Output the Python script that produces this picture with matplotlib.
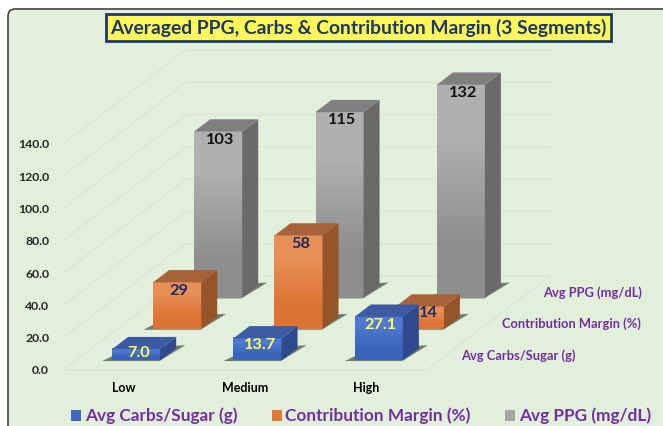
from matplotlib import pyplot as plt
from matplotlib.colors import LinearSegmentedColormap
from matplotlib.patches import FancyBboxPatch, Patch, Polygon

segments = ['Low', 'Medium', 'High']
series_names = ['Avg Carbs/Sugar (g)', 'Contribution Margin (%)', 'Avg PPG (mg/dL)']
carbs = [7.0, 13.7, 27.1]
margin = [29, 58, 14]
ppg = [103, 115, 132]
carbs_labels = ['7.0', '13.7', '27.1']
margin_labels = ['29', '58', '14']
ppg_labels = ['103', '115', '132']
y_ticks = [0, 20, 40, 60, 80, 100, 120, 140]

plt.rcParams['font.family'] = ['Lato', 'DejaVu Sans']
plt.rcParams['font.weight'] = 'bold'

W, H = 663, 426
BG = '#e2efda'
GRID = '#dae7d2'
PURPLE = '#7030a0'
NAVY = '#1f2a60'

# oblique view: one depth step moves 41px right and 31.3px up
DX = 41 / 121.3
DY = 31.33 / 1.614
HALF_W = 0.198
HALF_D = 0.195

# short bars have their labels closer to the top edge (points)
label_shift = {'7.0': (1.5, -3), '13.7': (1.5, -4.5), '14': (6.5, -4.5)}


def proj(cat, depth, val):
    return cat + depth * DX, val + depth * DY


fig = plt.figure(figsize=(W / 100, H / 100), dpi=100, facecolor='white')
frame = FancyBboxPatch((8 / 100, -0.5), 7.5, (H - 9) / 100 + 0.5,
                       boxstyle='round,pad=0,rounding_size=0.07',
                       transform=fig.dpi_scale_trans,
                       facecolor=BG, edgecolor='#333333', linewidth=1.1, zorder=-1)
fig.add_artist(frame)

ax = fig.add_axes([63 / W, (H - 370) / H, 364 / W, 226 / H])
ax.patch.set_alpha(0)
for s in ax.spines.values():
    s.set_visible(False)

# walls and floor
for v in y_ticks:
    x0, y0 = proj(0, 0, v)
    x1, y1 = proj(0, 3, v)
    x2, y2 = proj(3, 3, v)
    ax.plot([x0, x1, x2], [y0, y1, y2], color=GRID, lw=1, clip_on=False, zorder=1)
floor = [proj(0, 0, 0), proj(3, 0, 0), proj(3, 3, 0)]
ax.plot([p[0] for p in floor], [p[1] for p in floor], color=GRID, lw=1, clip_on=False, zorder=1)

styles = [
    (carbs, carbs_labels, 0.5, ('#4f78d0', '#3a64ba'), '#2f4b8e', '#3d5ba3', '#ffff55'),
    (margin, margin_labels, 1.5, ('#e68f58', '#dd7334'), '#96542a', '#a8623a', NAVY),
    (ppg, ppg_labels, 2.5, ('#b0b0b0', '#8e8e8e'), '#6a6a6a', '#7f7f7f', '#111111'),
]

# back row first so that the nearer bars cover it
z = 2
for values, labels, depth, front, side, top, label_col in reversed(styles):
    cmap = LinearSegmentedColormap.from_list('front', front)
    d0, d1 = depth - HALF_D, depth + HALF_D
    for i, val in enumerate(values):
        c0, c1 = i + 0.5 - HALF_W, i + 0.5 + HALF_W
        shadow = [proj(c0 - 0.075, d0 - 0.02, 0), proj(c1, d0 - 0.02, 0),
                  proj(c1 + 0.042, d1 + 0.096, 0), proj(c0, d1, 0)]
        ax.add_patch(Polygon(shadow, closed=True, fc='#4d5546', ec='none', alpha=0.75,
                             clip_on=False, zorder=z))
        fx0, fy0 = proj(c0, d0, 0)
        fx1, fy1 = proj(c1, d0, val)
        ax.imshow([[0], [1]], cmap=cmap, extent=[fx0, fx1, fy0, fy1], aspect='auto',
                  interpolation='bilinear', clip_on=False, zorder=z + 1)
        ax.add_patch(Polygon([proj(c1, d0, 0), proj(c1, d1, 0), proj(c1, d1, val), proj(c1, d0, val)],
                             closed=True, fc=side, ec='none', clip_on=False, zorder=z + 1))
        ax.add_patch(Polygon([proj(c0, d0, val), proj(c1, d0, val), proj(c1, d1, val), proj(c0, d1, val)],
                             closed=True, fc=top, ec='none', clip_on=False, zorder=z + 1))
        ax.annotate(labels[i], xy=((fx0 + fx1) / 2, fy1), xytext=label_shift.get(labels[i], (1.5, -6)),
                    textcoords='offset points', ha='center', va='center',
                    fontsize=11.8, color=label_col, zorder=z + 40, annotation_clip=False)
    z += 2

for name, (_, _, depth, *_rest) in zip(series_names, styles):
    ax.annotate(name, xy=proj(3, depth, 0), xytext=(9.5, -0.7), textcoords='offset points',
                ha='left', va='center', fontsize=9.3, color=PURPLE, annotation_clip=False)

ax.set_xlim(0, 3)
ax.set_ylim(0, 140)
ax.set_xticks([0.5, 1.5, 2.5], segments)
ax.set_yticks(y_ticks, [f'{v:.1f}' for v in y_ticks])
ax.tick_params(axis='x', length=0, pad=9, labelsize=9, labelcolor='black')
ax.tick_params(axis='y', length=0, pad=10, labelsize=8.8, labelcolor='#262626')

fig.suptitle('Averaged PPG, Carbs & Contribution Margin (3 Segments)', x=358.5 / W, y=1 - 27.5 / H,
             va='center', ha='center', fontsize=13.9, fontweight='bold', color='#1f3864',
             bbox=dict(boxstyle='square,pad=0.21', fc='#fdf75c', ec='#1f3864', lw=2))

handles = [Patch(fc='#3f69c0', label=series_names[0]),
           Patch(fc='#e07a3c', label=series_names[1]),
           Patch(fc='#a5a5a5', label=series_names[2])]
fig.legend(handles=handles, ncols=3, loc='center', bbox_to_anchor=(361 / W, 1 - 416 / H),
           frameon=False, fontsize=12.4, labelcolor=PURPLE, handlelength=0.58, handleheight=0.58,
           handletextpad=0.22, columnspacing=2.0, borderpad=0, borderaxespad=0)

fig.savefig('out.png', dpi=100)
